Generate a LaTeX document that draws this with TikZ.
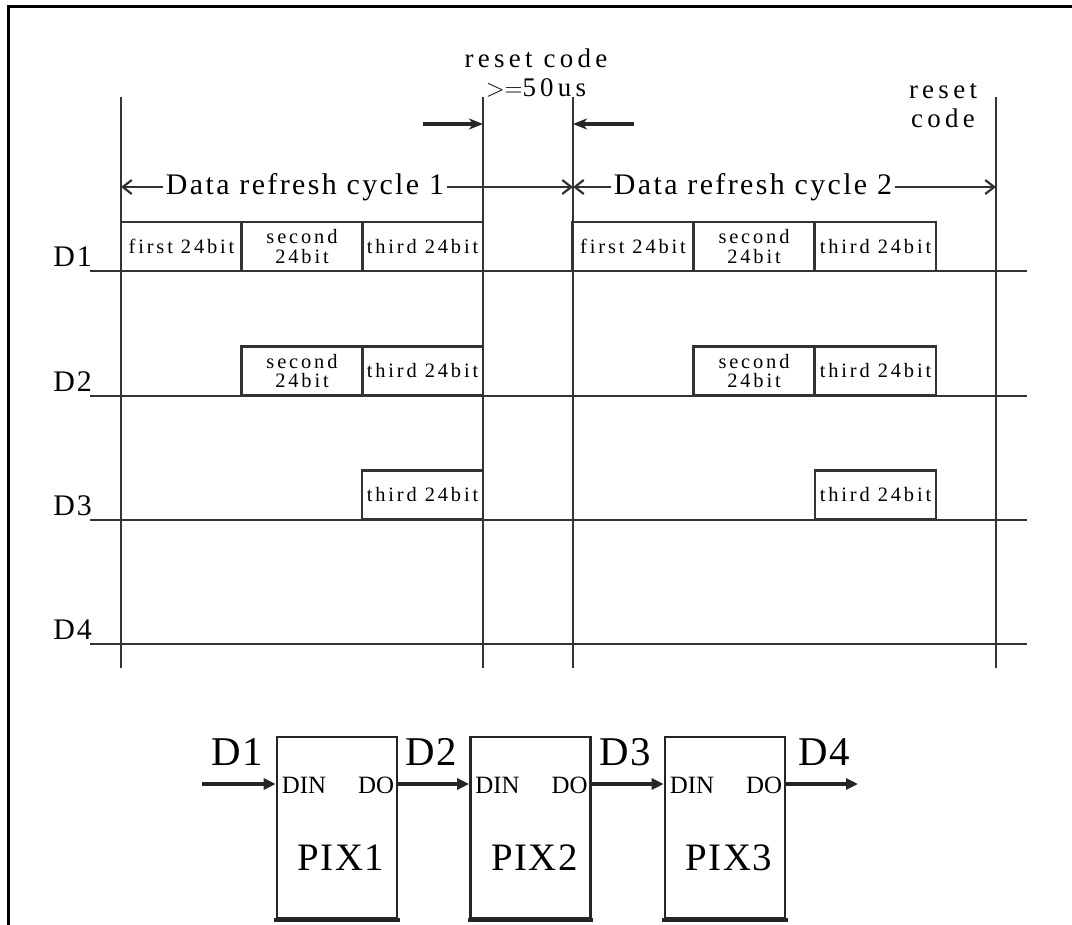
\documentclass[tikz,border=0pt]{standalone}
\usepackage{fontspec}
\setmainfont{Liberation Serif}
\newfontfamily\boxfont[LetterSpace=14]{Liberation Serif}
\newfontfamily\labfont[LetterSpace=6]{Liberation Serif}
\newfontfamily\cycfont[LetterSpace=8]{Liberation Serif}
\newfontfamily\resfont[LetterSpace=16]{Liberation Serif}
\newfontfamily\botfont[LetterSpace=4]{Liberation Serif}
\usetikzlibrary{arrows.meta}
\definecolor{ink}{HTML}{333333}
\begin{document}
\begin{tikzpicture}[x=1bp,y=-1bp,
  ln/.style={line width=2.4bp, draw=ink},
  tbox/.style={draw=ink, line width=2.4bp, minimum width=121bp, minimum height=49bp, inner sep=0pt, align=center,
     font=\boxfont\fontsize{20.5}{20}\selectfont},
  dlab/.style={anchor=base east, inner sep=0pt, font=\labfont\fontsize{30}{30}\selectfont},
  cyc/.style={inner sep=3bp, font=\cycfont\fontsize{30}{30}\selectfont, fill=white},
  reslab/.style={inner sep=0pt, align=center, font=\resfont\fontsize{27}{29}\selectfont},
  openarr/.style={draw=ink, line width=2.2bp, -{Straight Barb[length=9bp,width=14bp,line width=2.2bp]}},
  thickarr/.style={draw=black!85, line width=3.2bp, -{Stealth[length=14bp,width=11bp,inset=4bp]}},
  busarr/.style={draw=black!85, line width=3.4bp, -{Triangle[length=12bp,width=11bp]}},
  pix/.style={draw=black!85, line width=2.6bp, minimum width=120bp, minimum height=181bp, inner sep=0pt},
  shade/.style={draw=black!85, line width=4.2bp},
  blab/.style={inner sep=0pt, font=\botfont\fontsize{41}{44}\selectfont},
  pinlab/.style={inner sep=0pt, font=\fontsize{25}{28}\selectfont},
  pixlab/.style={inner sep=0pt, font=\botfont\fontsize{39}{42}\selectfont}
]
\useasboundingbox (0,0) rectangle (1072,925);
% frame
\draw[line width=3bp, black] (8,925) -- (8,6) -- (1072,6);

% vertical time markers
\foreach \n/\x in {a/121, b/483, c/573, d/996} {
  \coordinate (\n top) at (\x,97);
  \coordinate (\n bot) at (\x,668);
  \draw[ln] (\n top) -- (\n bot);
}

% signal lines
\foreach \n/\y in {1/271, 2/396, 3/520, 4/644} {
  \coordinate (L\n s) at (90,\y);
  \coordinate (L\n e) at (1027,\y);
  \draw[ln] (L\n s) -- (L\n e);
  \node[dlab] (D\n lab) at (92,\y-5) {D\n};
}

% D1 boxes
\node[tbox] (b11) at (181.5,246.5) {first 24bit};
\node[tbox] (b12) at (302,246.5) {second\\24bit};
\node[tbox] (b13) at (422.5,246.5) {third 24bit};
\node[tbox] (b14) at (633,246.5) {first 24bit};
\node[tbox] (b15) at (754,246.5) {second\\24bit};
\node[tbox] (b16) at (875.5,246.5) {third 24bit};
% D2 boxes
\node[tbox] (b22) at (302,371) {second\\24bit};
\node[tbox] (b23) at (422.5,371) {third 24bit};
\node[tbox] (b25) at (754,371) {second\\24bit};
\node[tbox] (b26) at (875.5,371) {third 24bit};
% D3 boxes
\node[tbox] (b33) at (422.5,495) {third 24bit};
\node[tbox] (b36) at (875.5,495) {third 24bit};

% data refresh cycles
\coordinate (c1l) at (121,187);
\coordinate (c1r) at (573,187);
\coordinate (c2r) at (996,187);
\node[cyc] (cyc1) at (305,187) {Data refresh cycle 1};
\node[cyc] (cyc2) at (753,187) {Data refresh cycle 2};
\draw[openarr] (cyc1.west) -- (c1l);
\draw[openarr] (cyc1.east) -- (c1r);
\draw[openarr] (cyc2.west) -- (c1r);
\draw[openarr] (cyc2.east) -- (c2r);

% reset code
\node[reslab] (rc1) at (536,73) {reset code\\${>}{=}$50us};
\node[reslab] (rc2) at (943,106) {reset\\code};
\coordinate (r1s) at (423,124);
\coordinate (r1e) at (483,124);
\coordinate (r2s) at (634,124);
\coordinate (r2e) at (573,124);
\draw[thickarr] (r1s) -- (r1e);
\draw[thickarr] (r2s) -- (r2e);

% pixel chain
\node[pix] (p1) at (337,827.5) {};
\node[pix] (p2) at (530.5,827.5) {};
\node[pix] (p3) at (725,827.5) {};
\foreach \i in {1,2,3} {
  \draw[shade] ([xshift=-1.3bp,yshift=-0.8bp]p\i.south west) -- ([xshift=1.3bp,yshift=-0.8bp]p\i.south east);
}
\coordinate (din) at (202,784);
\coordinate (dout) at (858,784);
\draw[busarr] (din) -- (p1.west |- din);
\draw[busarr] (p1.east |- din) -- (p2.west |- din);
\draw[busarr] (p2.east |- din) -- (p3.west |- din);
\draw[busarr] (p3.east |- din) -- (dout);
\foreach \i in {1,2,3} {
  \node[pinlab, anchor=base west] (din\i) at ([xshift=6bp]p\i.west |- 0,793) {DIN};
  \node[pinlab, anchor=base east] (do\i) at ([xshift=-4bp]p\i.east |- 0,793) {DO};
  \node[pixlab, anchor=base] (pl\i) at ([xshift=4bp]p\i.center |- 0,870) {PIX\i};
}
\node[blab, anchor=base] (bd1) at (237,765) {D1};
\node[blab, anchor=base] (bd2) at (431,765) {D2};
\node[blab, anchor=base] (bd3) at (625,765) {D3};
\node[blab, anchor=base] (bd4) at (824,765) {D4};
\end{tikzpicture}
\end{document}
